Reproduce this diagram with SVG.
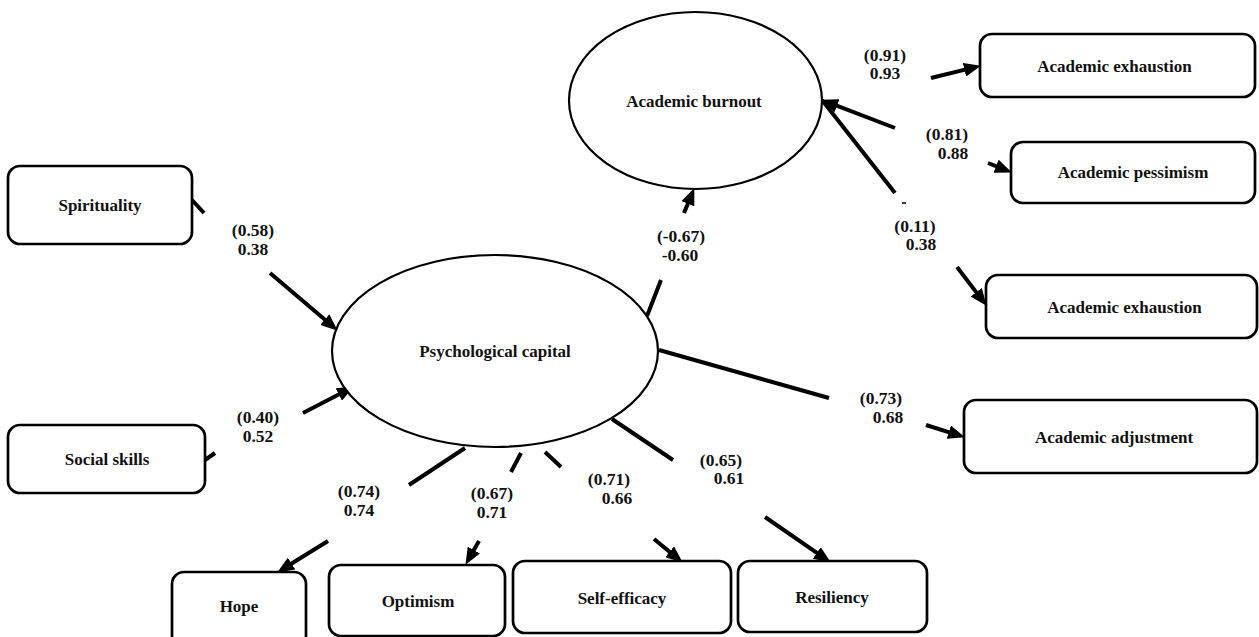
<svg xmlns="http://www.w3.org/2000/svg" width="1259" height="637" viewBox="0 0 1259 637">
<style>
.box{fill:#fff;stroke:#000;stroke-width:2.7}
.ell{fill:#fff;stroke:#000;stroke-width:2.2}
.t{font-family:"Liberation Serif","Times New Roman",serif;font-weight:bold;font-size:17px;fill:#111;text-anchor:middle}
.lb{font-family:"Liberation Serif","Times New Roman",serif;font-weight:bold;font-size:17.5px;fill:#111;text-anchor:middle}
.c{stroke:#000;stroke-width:4;fill:none}
.a{marker-end:url(#ah)}
</style>
<defs>
<marker id="ah" markerUnits="userSpaceOnUse" markerWidth="17" markerHeight="14" refX="8" refY="7" orient="auto">
<path d="M0,0 L17,7 L0,14 z" fill="#000"/>
</marker>
</defs>
<rect width="1259" height="637" fill="#fff"/>
<g id="connectors">
<line class="c" x1="192" y1="200" x2="204" y2="213"/>
<line class="c a" x1="270" y1="273" x2="330.9" y2="324.8"/>
<line class="c" x1="205" y1="460" x2="215" y2="453"/>
<line class="c a" x1="303" y1="413" x2="345.9" y2="390.7"/>
<line class="c" x1="647" y1="316" x2="661" y2="280"/>
<line class="c a" x1="684" y1="213" x2="690.9" y2="196.4"/>
<line class="c a" x1="895" y1="128" x2="829.5" y2="102.9"/>
<line class="c" x1="895" y1="193" x2="822" y2="100"/>
<line x1="902" y1="203" x2="906" y2="203" stroke="#000" stroke-width="1.5"/>
<line class="c a" x1="931" y1="78" x2="972.2" y2="67.9"/>
<line class="c a" x1="988" y1="163" x2="1003.5" y2="169.1"/>
<line class="c a" x1="957" y1="267" x2="981.1" y2="298.6"/>
<line class="c" x1="659" y1="350" x2="829" y2="398"/>
<line class="c a" x1="926" y1="425" x2="956.4" y2="434.6"/>
<line class="c" x1="465" y1="448" x2="409" y2="485"/>
<line class="c a" x1="328" y1="541" x2="284.8" y2="567.8"/>
<line class="c" x1="521" y1="453" x2="511" y2="472"/>
<line class="c a" x1="479" y1="541" x2="469.9" y2="557"/>
<line class="c" x1="545" y1="452" x2="561" y2="467"/>
<line class="c a" x1="654" y1="539" x2="675.8" y2="556.9"/>
<line class="c" x1="612" y1="419" x2="673" y2="460"/>
<line class="c a" x1="765" y1="517" x2="823.4" y2="557.4"/>
</g>
<g id="labels">
<text class="lb" x="885" y="61">(0.91)</text>
<text class="lb" x="885" y="79">0.93</text>
<text class="lb" x="947" y="140">(0.81)</text>
<text class="lb" x="953" y="159">0.88</text>
<text class="lb" x="915" y="232">(0.11)</text>
<text class="lb" x="921" y="250">0.38</text>
<text class="lb" x="681" y="242">(-0.67)</text>
<text class="lb" x="680" y="261">-0.60</text>
<text class="lb" x="253" y="236">(0.58)</text>
<text class="lb" x="253" y="255">0.38</text>
<text class="lb" x="258" y="423">(0.40)</text>
<text class="lb" x="258" y="442">0.52</text>
<text class="lb" x="359" y="497">(0.74)</text>
<text class="lb" x="359" y="516">0.74</text>
<text class="lb" x="492" y="499">(0.67)</text>
<text class="lb" x="492" y="518">0.71</text>
<text class="lb" x="609" y="485">(0.71)</text>
<text class="lb" x="617" y="504">0.66</text>
<text class="lb" x="721" y="466">(0.65)</text>
<text class="lb" x="729" y="484">0.61</text>
<text class="lb" x="881" y="404">(0.73)</text>
<text class="lb" x="888" y="423">0.68</text>
</g>
<g id="academic-burnout">
<ellipse class="ell" cx="695.5" cy="100.5" rx="126.5" ry="88.5"/>
<text class="t" x="694" y="107">Academic burnout</text>
</g>
<g id="psychological-capital">
<ellipse class="ell" cx="495" cy="351" rx="163" ry="96"/>
<text class="t" x="495" y="357">Psychological capital</text>
</g>
<g id="academic-exhaustion-1">
<rect class="box" x="980" y="34" width="275" height="63" rx="12"/>
<text class="t" x="1114.5" y="72">Academic exhaustion</text>
</g>
<g id="academic-pessimism">
<rect class="box" x="1011" y="142" width="244" height="61" rx="12"/>
<text class="t" x="1133" y="178">Academic pessimism</text>
</g>
<g id="academic-exhaustion-2">
<rect class="box" x="986" y="275" width="271" height="63" rx="12"/>
<text class="t" x="1124.5" y="313">Academic exhaustion</text>
</g>
<g id="academic-adjustment">
<rect class="box" x="964" y="400" width="293" height="73" rx="12"/>
<text class="t" x="1114" y="443">Academic adjustment</text>
</g>
<g id="spirituality">
<rect class="box" x="8" y="166" width="184" height="78" rx="12"/>
<text class="t" x="100" y="211">Spirituality</text>
</g>
<g id="social-skills">
<rect class="box" x="8" y="425" width="197" height="68" rx="12"/>
<text class="t" x="107" y="465">Social skills</text>
</g>
<g id="hope">
<rect class="box" x="172" y="572" width="134" height="75" rx="12"/>
<text class="t" x="239" y="612">Hope</text>
</g>
<g id="optimism">
<rect class="box" x="329" y="565" width="176" height="71" rx="12"/>
<text class="t" x="418" y="607">Optimism</text>
</g>
<g id="self-efficacy">
<rect class="box" x="513" y="561" width="218" height="72" rx="12"/>
<text class="t" x="622" y="604">Self-efficacy</text>
</g>
<g id="resiliency">
<rect class="box" x="738" y="561" width="189" height="71" rx="12"/>
<text class="t" x="832" y="603">Resiliency</text>
</g>
</svg>
